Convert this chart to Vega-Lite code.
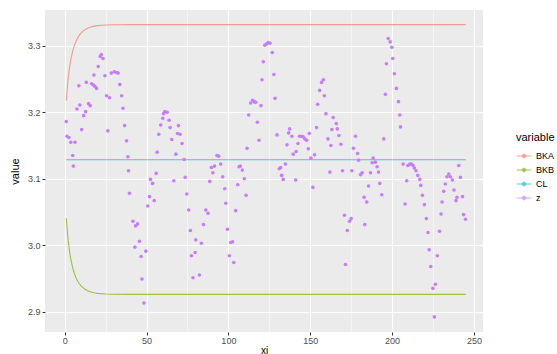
{
  "$schema": "https://vega.github.io/schema/vega-lite/v6.json",
  "width": 438,
  "height": 322,
  "autosize": {"type": "none"},
  "padding": {"left": 45, "top": 10, "right": 74, "bottom": 22},
  "background": "white",
  "config": {
    "view": {"fill": "#EBEBEB", "stroke": null},
    "font": "Liberation Sans"
  },
  "layer": [
    {
      "data": {"values": [
        {"variable": "BKA", "xi": 1, "value": 3.2175}, {"variable": "BKA", "xi": 2, "value": 3.248}, {"variable": "BKA", "xi": 3, "value": 3.268}, {"variable": "BKA", "xi": 4, "value": 3.2822}, {"variable": "BKA", "xi": 5, "value": 3.2928}, {"variable": "BKA", "xi": 6, "value": 3.301}, {"variable": "BKA", "xi": 7, "value": 3.3073}, {"variable": "BKA", "xi": 8, "value": 3.3122}, {"variable": "BKA", "xi": 9, "value": 3.3161}, {"variable": "BKA", "xi": 10, "value": 3.3193}, {"variable": "BKA", "xi": 12, "value": 3.3237}, {"variable": "BKA", "xi": 14, "value": 3.3266}, {"variable": "BKA", "xi": 16, "value": 3.3285}, {"variable": "BKA", "xi": 18, "value": 3.3297}, {"variable": "BKA", "xi": 20, "value": 3.3305}, {"variable": "BKA", "xi": 25, "value": 3.3315}, {"variable": "BKA", "xi": 30, "value": 3.3318}, {"variable": "BKA", "xi": 40, "value": 3.332}, {"variable": "BKA", "xi": 245, "value": 3.332},
        {"variable": "BKB", "xi": 1, "value": 3.0405}, {"variable": "BKB", "xi": 2, "value": 3.010}, {"variable": "BKB", "xi": 3, "value": 2.990}, {"variable": "BKB", "xi": 4, "value": 2.9758}, {"variable": "BKB", "xi": 5, "value": 2.9652}, {"variable": "BKB", "xi": 6, "value": 2.957}, {"variable": "BKB", "xi": 7, "value": 2.9507}, {"variable": "BKB", "xi": 8, "value": 2.9458}, {"variable": "BKB", "xi": 9, "value": 2.9419}, {"variable": "BKB", "xi": 10, "value": 2.9387}, {"variable": "BKB", "xi": 12, "value": 2.9343}, {"variable": "BKB", "xi": 14, "value": 2.9314}, {"variable": "BKB", "xi": 16, "value": 2.9295}, {"variable": "BKB", "xi": 18, "value": 2.9283}, {"variable": "BKB", "xi": 20, "value": 2.9275}, {"variable": "BKB", "xi": 25, "value": 2.9265}, {"variable": "BKB", "xi": 30, "value": 2.9262}, {"variable": "BKB", "xi": 40, "value": 2.926}, {"variable": "BKB", "xi": 245, "value": 2.926},
        {"variable": "CL", "xi": 1, "value": 3.1285}, {"variable": "CL", "xi": 245, "value": 3.1285}
      ]},
      "mark": {"type": "line", "strokeWidth": 1.1, "opacity": 0.7},
      "encoding": {
        "x": {
          "field": "xi", "type": "quantitative",
          "scale": {"domain": [-12, 255.5], "nice": false, "zero": false},
          "axis": {
            "values": [0, 25, 50, 75, 100, 125, 150, 175, 200, 225, 250],
            "title": "xi",
            "labelExpr": "datum.value % 50 === 0 ? datum.label : ''",
            "grid": true, "gridColor": "white",
            "gridWidth": {"condition": {"test": "datum.value % 50 !== 0", "value": 0.5}, "value": 1.1},
            "tickOpacity": {"condition": {"test": "datum.value % 50 !== 0", "value": 0}, "value": 1},
            "domain": false, "tickColor": "#333333", "tickSize": 3, "tickWidth": 1,
            "labelColor": "#4D4D4D", "labelFontSize": 9, "labelPadding": 1, "labelFlush": false,
            "titleFontSize": 10, "titleFontWeight": "normal", "titleColor": "black", "titlePadding": 0
          }
        },
        "y": {
          "field": "value", "type": "quantitative",
          "scale": {"domain": [2.8693, 3.354], "nice": false, "zero": false},
          "axis": {
            "values": [2.9, 2.95, 3, 3.05, 3.1, 3.15, 3.2, 3.25, 3.3, 3.35],
            "title": "value",
            "labelExpr": "abs(datum.value*10 - round(datum.value*10)) > 0.01 ? '' : format(datum.value, '.1f')",
            "grid": true, "gridColor": "white",
            "gridWidth": {"condition": {"test": "abs(datum.value*10 - round(datum.value*10)) > 0.01", "value": 0.5}, "value": 1.1},
            "tickOpacity": {"condition": {"test": "abs(datum.value*10 - round(datum.value*10)) > 0.01", "value": 0}, "value": 1},
            "domain": false, "tickColor": "#333333", "tickSize": 3, "tickWidth": 1,
            "labelColor": "#4D4D4D", "labelFontSize": 9, "labelPadding": 2, "labelFlush": false,
            "titleFontSize": 11, "titleFontWeight": "normal", "titleColor": "black", "titlePadding": 7
          }
        },
        "color": {
          "field": "variable", "type": "nominal",
          "scale": {"domain": ["BKA", "BKB", "CL", "z"], "range": ["#F8766D", "#7CAE00", "#00BFC4", "#C77CFF"]},
          "legend": {
            "title": "variable",
            "orient": "none", "legendX": 471, "legendY": 122,
            "titleFontSize": 11, "titleFontWeight": "normal", "titleColor": "black", "titlePadding": 5,
            "labelFontSize": 9, "labelColor": "black", "labelOffset": 4,
            "symbolType": "M-1,0L1,0M0.25,0A0.25,0.25,0,1,1,-0.25,0A0.25,0.25,0,1,1,0.25,0Z",
            "symbolSize": 216, "rowPadding": 1, "symbolStrokeWidth": 1,
            "encode": {"symbols": {"update": {"fill": {"scale": "color", "field": "value"}, "stroke": {"scale": "color", "field": "value"}, "strokeWidth": {"value": 1}, "opacity": {"value": 1}}}}
          }
        }
      }
    },
    {
      "data": {"values": [
        {"variable": "z", "xi": 1, "value": 3.186}, {"variable": "z", "xi": 1.4, "value": 3.164}, {"variable": "z", "xi": 2.6, "value": 3.162}, {"variable": "z", "xi": 3.7, "value": 3.155}, {"variable": "z", "xi": 4.9, "value": 3.135}, {"variable": "z", "xi": 5.3, "value": 3.119}, {"variable": "z", "xi": 6.3, "value": 3.155}, {"variable": "z", "xi": 7.5, "value": 3.205}, {"variable": "z", "xi": 8.7, "value": 3.240}, {"variable": "z", "xi": 9.3, "value": 3.211},
        {"variable": "z", "xi": 10.4, "value": 3.174}, {"variable": "z", "xi": 11.6, "value": 3.195}, {"variable": "z", "xi": 12.8, "value": 3.201}, {"variable": "z", "xi": 13.2, "value": 3.245}, {"variable": "z", "xi": 14.6, "value": 3.213}, {"variable": "z", "xi": 15.6, "value": 3.210}, {"variable": "z", "xi": 16.5, "value": 3.243}, {"variable": "z", "xi": 17.5, "value": 3.241}, {"variable": "z", "xi": 17.9, "value": 3.256}, {"variable": "z", "xi": 18.5, "value": 3.239},
        {"variable": "z", "xi": 19.5, "value": 3.236}, {"variable": "z", "xi": 20.5, "value": 3.269}, {"variable": "z", "xi": 21.7, "value": 3.284}, {"variable": "z", "xi": 22.4, "value": 3.287}, {"variable": "z", "xi": 23.4, "value": 3.281}, {"variable": "z", "xi": 24.6, "value": 3.255}, {"variable": "z", "xi": 25.6, "value": 3.225}, {"variable": "z", "xi": 26.4, "value": 3.172}, {"variable": "z", "xi": 27.4, "value": 3.222}, {"variable": "z", "xi": 28.5, "value": 3.259},
        {"variable": "z", "xi": 30.3, "value": 3.261}, {"variable": "z", "xi": 31.7, "value": 3.260}, {"variable": "z", "xi": 32.7, "value": 3.259}, {"variable": "z", "xi": 33.7, "value": 3.242}, {"variable": "z", "xi": 34.8, "value": 3.225}, {"variable": "z", "xi": 35.6, "value": 3.206}, {"variable": "z", "xi": 36.6, "value": 3.180}, {"variable": "z", "xi": 37.8, "value": 3.157}, {"variable": "z", "xi": 38.6, "value": 3.133}, {"variable": "z", "xi": 39.0, "value": 3.112},
        {"variable": "z", "xi": 39.6, "value": 3.078}, {"variable": "z", "xi": 41.7, "value": 3.036}, {"variable": "z", "xi": 42.9, "value": 2.997}, {"variable": "z", "xi": 43.3, "value": 3.029}, {"variable": "z", "xi": 44.5, "value": 3.032}, {"variable": "z", "xi": 45.7, "value": 3.006}, {"variable": "z", "xi": 46.7, "value": 2.983}, {"variable": "z", "xi": 47.2, "value": 2.949}, {"variable": "z", "xi": 48.4, "value": 2.913}, {"variable": "z", "xi": 49.6, "value": 2.991},
        {"variable": "z", "xi": 50.8, "value": 3.059}, {"variable": "z", "xi": 51.8, "value": 3.073}, {"variable": "z", "xi": 52.4, "value": 3.099}, {"variable": "z", "xi": 53.7, "value": 3.093}, {"variable": "z", "xi": 54.7, "value": 3.067}, {"variable": "z", "xi": 55.9, "value": 3.108}, {"variable": "z", "xi": 56.5, "value": 3.140}, {"variable": "z", "xi": 57.5, "value": 3.167}, {"variable": "z", "xi": 58.7, "value": 3.181}, {"variable": "z", "xi": 59.9, "value": 3.191},
        {"variable": "z", "xi": 60.4, "value": 3.198}, {"variable": "z", "xi": 61.2, "value": 3.201}, {"variable": "z", "xi": 62.6, "value": 3.200}, {"variable": "z", "xi": 63.8, "value": 3.188}, {"variable": "z", "xi": 64.4, "value": 3.177}, {"variable": "z", "xi": 65.4, "value": 3.159}, {"variable": "z", "xi": 66.7, "value": 3.097}, {"variable": "z", "xi": 67.9, "value": 3.137}, {"variable": "z", "xi": 68.9, "value": 3.168}, {"variable": "z", "xi": 69.5, "value": 3.180},
        {"variable": "z", "xi": 70.5, "value": 3.167}, {"variable": "z", "xi": 71.7, "value": 3.153}, {"variable": "z", "xi": 73.0, "value": 3.129}, {"variable": "z", "xi": 73.6, "value": 3.102}, {"variable": "z", "xi": 74.6, "value": 3.077}, {"variable": "z", "xi": 75.8, "value": 3.053}, {"variable": "z", "xi": 76.8, "value": 3.022}, {"variable": "z", "xi": 77.4, "value": 2.984}, {"variable": "z", "xi": 78.4, "value": 2.951}, {"variable": "z", "xi": 79.7, "value": 2.989},
        {"variable": "z", "xi": 80.1, "value": 3.008}, {"variable": "z", "xi": 82.3, "value": 2.955}, {"variable": "z", "xi": 83.5, "value": 3.003}, {"variable": "z", "xi": 84.8, "value": 3.031}, {"variable": "z", "xi": 86.2, "value": 3.053}, {"variable": "z", "xi": 87.6, "value": 3.048}, {"variable": "z", "xi": 88.6, "value": 3.096}, {"variable": "z", "xi": 89.6, "value": 3.117}, {"variable": "z", "xi": 90.5, "value": 3.109}, {"variable": "z", "xi": 91.5, "value": 3.119},
        {"variable": "z", "xi": 93.0, "value": 3.135}, {"variable": "z", "xi": 94.1, "value": 3.134}, {"variable": "z", "xi": 95.3, "value": 3.122}, {"variable": "z", "xi": 96.5, "value": 3.103}, {"variable": "z", "xi": 97.8, "value": 3.085}, {"variable": "z", "xi": 98.4, "value": 3.063}, {"variable": "z", "xi": 99.4, "value": 3.024}, {"variable": "z", "xi": 100.6, "value": 2.984}, {"variable": "z", "xi": 101.4, "value": 3.004}, {"variable": "z", "xi": 102.6, "value": 3.005},
        {"variable": "z", "xi": 103.3, "value": 2.974}, {"variable": "z", "xi": 104.5, "value": 3.052}, {"variable": "z", "xi": 105.7, "value": 3.091}, {"variable": "z", "xi": 106.5, "value": 3.118}, {"variable": "z", "xi": 107.3, "value": 3.119}, {"variable": "z", "xi": 108.5, "value": 3.113}, {"variable": "z", "xi": 109.7, "value": 3.100}, {"variable": "z", "xi": 110.8, "value": 3.075}, {"variable": "z", "xi": 111.4, "value": 3.146}, {"variable": "z", "xi": 112.4, "value": 3.196},
        {"variable": "z", "xi": 113.6, "value": 3.214}, {"variable": "z", "xi": 114.8, "value": 3.218}, {"variable": "z", "xi": 115.7, "value": 3.216}, {"variable": "z", "xi": 116.7, "value": 3.215}, {"variable": "z", "xi": 117.7, "value": 3.185}, {"variable": "z", "xi": 118.7, "value": 3.158}, {"variable": "z", "xi": 119.9, "value": 3.210}, {"variable": "z", "xi": 120.5, "value": 3.249}, {"variable": "z", "xi": 121.3, "value": 3.276}, {"variable": "z", "xi": 122.2, "value": 3.301},
        {"variable": "z", "xi": 123.3, "value": 3.303}, {"variable": "z", "xi": 124.3, "value": 3.305}, {"variable": "z", "xi": 125.4, "value": 3.304}, {"variable": "z", "xi": 126.8, "value": 3.290}, {"variable": "z", "xi": 127.8, "value": 3.257}, {"variable": "z", "xi": 128.5, "value": 3.221}, {"variable": "z", "xi": 129.7, "value": 3.166}, {"variable": "z", "xi": 131.1, "value": 3.115}, {"variable": "z", "xi": 131.9, "value": 3.117}, {"variable": "z", "xi": 132.5, "value": 3.105},
        {"variable": "z", "xi": 133.5, "value": 3.099}, {"variable": "z", "xi": 134.8, "value": 3.122}, {"variable": "z", "xi": 135.8, "value": 3.151}, {"variable": "z", "xi": 136.8, "value": 3.169}, {"variable": "z", "xi": 137.4, "value": 3.175}, {"variable": "z", "xi": 138.8, "value": 3.164}, {"variable": "z", "xi": 139.6, "value": 3.137}, {"variable": "z", "xi": 141.1, "value": 3.098}, {"variable": "z", "xi": 141.4, "value": 3.141}, {"variable": "z", "xi": 142.5, "value": 3.153},
        {"variable": "z", "xi": 143.5, "value": 3.164}, {"variable": "z", "xi": 144.7, "value": 3.164}, {"variable": "z", "xi": 145.7, "value": 3.163}, {"variable": "z", "xi": 146.7, "value": 3.160}, {"variable": "z", "xi": 147.8, "value": 3.158}, {"variable": "z", "xi": 148.8, "value": 3.145}, {"variable": "z", "xi": 149.4, "value": 3.168}, {"variable": "z", "xi": 150.4, "value": 3.131}, {"variable": "z", "xi": 151.6, "value": 3.087}, {"variable": "z", "xi": 152.6, "value": 3.136},
        {"variable": "z", "xi": 153.8, "value": 3.177}, {"variable": "z", "xi": 154.5, "value": 3.212}, {"variable": "z", "xi": 155.7, "value": 3.233}, {"variable": "z", "xi": 156.9, "value": 3.245}, {"variable": "z", "xi": 158.0, "value": 3.249}, {"variable": "z", "xi": 158.6, "value": 3.225}, {"variable": "z", "xi": 159.6, "value": 3.198}, {"variable": "z", "xi": 160.8, "value": 3.160}, {"variable": "z", "xi": 162.0, "value": 3.110}, {"variable": "z", "xi": 162.6, "value": 3.150},
        {"variable": "z", "xi": 163.2, "value": 3.174}, {"variable": "z", "xi": 164.0, "value": 3.192}, {"variable": "z", "xi": 165.9, "value": 3.183}, {"variable": "z", "xi": 166.5, "value": 3.175}, {"variable": "z", "xi": 167.5, "value": 3.165}, {"variable": "z", "xi": 168.7, "value": 3.152}, {"variable": "z", "xi": 169.7, "value": 3.112}, {"variable": "z", "xi": 170.9, "value": 3.045}, {"variable": "z", "xi": 171.5, "value": 2.971}, {"variable": "z", "xi": 172.6, "value": 3.022},
        {"variable": "z", "xi": 174.0, "value": 3.036}, {"variable": "z", "xi": 175.0, "value": 3.040}, {"variable": "z", "xi": 175.4, "value": 3.112}, {"variable": "z", "xi": 176.4, "value": 3.146}, {"variable": "z", "xi": 177.6, "value": 3.164}, {"variable": "z", "xi": 178.9, "value": 3.138}, {"variable": "z", "xi": 179.5, "value": 3.128}, {"variable": "z", "xi": 180.7, "value": 3.106}, {"variable": "z", "xi": 181.7, "value": 3.109}, {"variable": "z", "xi": 182.9, "value": 3.072},
        {"variable": "z", "xi": 183.3, "value": 3.031}, {"variable": "z", "xi": 184.5, "value": 3.065}, {"variable": "z", "xi": 185.6, "value": 3.089}, {"variable": "z", "xi": 186.8, "value": 3.109}, {"variable": "z", "xi": 187.8, "value": 3.124}, {"variable": "z", "xi": 188.4, "value": 3.131}, {"variable": "z", "xi": 189.8, "value": 3.125}, {"variable": "z", "xi": 190.8, "value": 3.118}, {"variable": "z", "xi": 191.7, "value": 3.110}, {"variable": "z", "xi": 192.5, "value": 3.093},
        {"variable": "z", "xi": 193.7, "value": 3.076}, {"variable": "z", "xi": 194.9, "value": 3.160}, {"variable": "z", "xi": 195.9, "value": 3.227}, {"variable": "z", "xi": 196.5, "value": 3.273}, {"variable": "z", "xi": 197.6, "value": 3.311}, {"variable": "z", "xi": 198.8, "value": 3.306}, {"variable": "z", "xi": 199.8, "value": 3.298}, {"variable": "z", "xi": 200.4, "value": 3.281}, {"variable": "z", "xi": 201.4, "value": 3.258}, {"variable": "z", "xi": 202.6, "value": 3.236},
        {"variable": "z", "xi": 203.9, "value": 3.216}, {"variable": "z", "xi": 204.7, "value": 3.196}, {"variable": "z", "xi": 205.1, "value": 3.178}, {"variable": "z", "xi": 206.7, "value": 3.122}, {"variable": "z", "xi": 207.9, "value": 3.062}, {"variable": "z", "xi": 208.9, "value": 3.097}, {"variable": "z", "xi": 209.6, "value": 3.120}, {"variable": "z", "xi": 210.8, "value": 3.122}, {"variable": "z", "xi": 211.8, "value": 3.122}, {"variable": "z", "xi": 212.8, "value": 3.120},
        {"variable": "z", "xi": 213.6, "value": 3.116}, {"variable": "z", "xi": 214.6, "value": 3.112}, {"variable": "z", "xi": 215.7, "value": 3.105}, {"variable": "z", "xi": 216.9, "value": 3.099}, {"variable": "z", "xi": 217.5, "value": 3.090}, {"variable": "z", "xi": 218.5, "value": 3.075}, {"variable": "z", "xi": 219.7, "value": 3.061}, {"variable": "z", "xi": 220.9, "value": 3.040}, {"variable": "z", "xi": 221.9, "value": 3.019}, {"variable": "z", "xi": 222.6, "value": 2.993},
        {"variable": "z", "xi": 223.6, "value": 2.968}, {"variable": "z", "xi": 224.9, "value": 2.935}, {"variable": "z", "xi": 225.8, "value": 2.892}, {"variable": "z", "xi": 226.4, "value": 2.941}, {"variable": "z", "xi": 227.6, "value": 2.984}, {"variable": "z", "xi": 228.9, "value": 3.021}, {"variable": "z", "xi": 229.9, "value": 3.047}, {"variable": "z", "xi": 230.5, "value": 3.065}, {"variable": "z", "xi": 231.5, "value": 3.081}, {"variable": "z", "xi": 232.5, "value": 3.092},
        {"variable": "z", "xi": 233.5, "value": 3.103}, {"variable": "z", "xi": 234.6, "value": 3.107}, {"variable": "z", "xi": 235.6, "value": 3.103}, {"variable": "z", "xi": 236.8, "value": 3.098}, {"variable": "z", "xi": 237.8, "value": 3.083}, {"variable": "z", "xi": 239.0, "value": 3.067}, {"variable": "z", "xi": 239.6, "value": 3.072}, {"variable": "z", "xi": 240.7, "value": 3.120}, {"variable": "z", "xi": 241.7, "value": 3.102}, {"variable": "z", "xi": 243.0, "value": 3.073},
        {"variable": "z", "xi": 243.6, "value": 3.046}, {"variable": "z", "xi": 244.8, "value": 3.039}
      ]},
      "mark": {"type": "point", "filled": true, "size": 13, "opacity": 1},
      "encoding": {
        "x": {"field": "xi", "type": "quantitative"},
        "y": {"field": "value", "type": "quantitative"},
        "color": {"field": "variable", "type": "nominal"}
      }
    }
  ]
}
